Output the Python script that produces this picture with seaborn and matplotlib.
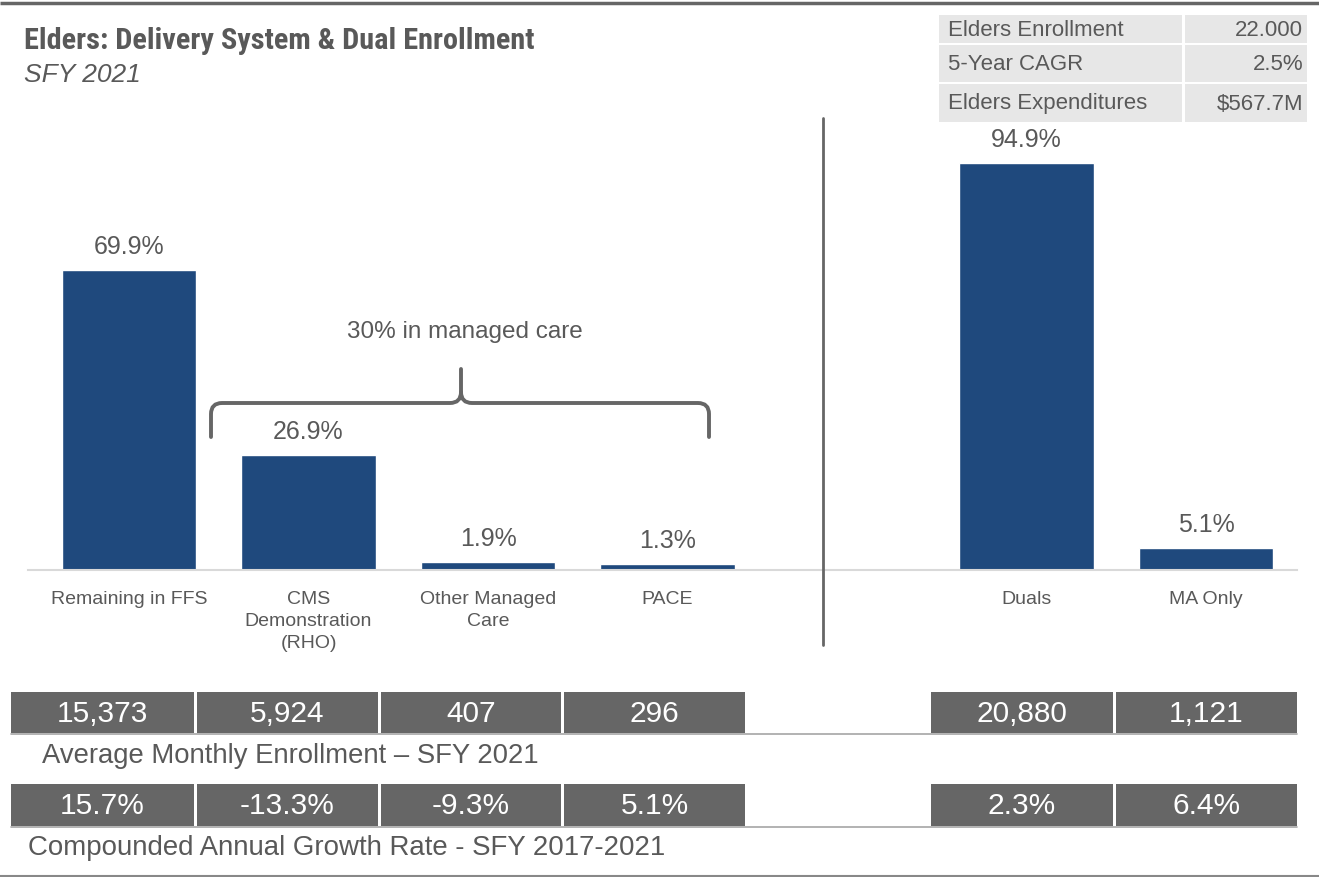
import matplotlib
matplotlib.use("Agg")
import matplotlib.pyplot as plt
from matplotlib import font_manager as fm
from matplotlib.path import Path
from matplotlib.patches import PathPatch, Rectangle
import seaborn as sns
import pandas as pd

# ---------------- data ----------------
categories = ["Remaining in FFS", "CMS\nDemonstration\n(RHO)", "Other Managed\nCare", "PACE",
              "Duals", "MA Only"]
shares = [69.9, 26.9, 1.9, 1.3, 94.9, 5.1]
enrollment = [15373, 5924, 407, 296, 20880, 1121]
cagr = [15.7, -13.3, -9.3, 5.1, 2.3, 6.4]
summary_labels = ["Elders Enrollment", "5-Year CAGR", "Elders Expenditures"]
summary_values = ["22.000", "2.5%", "$567.7M"]
title = "Elders: Delivery System & Dual Enrollment"
subtitle = "SFY 2021"
bracket_text = "30% in managed care"
enroll_caption = "Average Monthly Enrollment \u2013 SFY 2021"
cagr_caption = "Compounded Annual Growth Rate - SFY 2017-2021"

# ---------------- style ----------------
W, H = 1319, 877
BAR = "#1F497D"
GREY_TXT = "#595959"
DARK_CELL = "#666666"
LIGHT_CELL = "#E7E7E7"

sns.set_theme(style="white")
names = {f.name for f in fm.fontManager.ttflist}
main_font = "Liberation Sans" if "Liberation Sans" in names else "DejaVu Sans"
narrow_font = next((n for n in ["Liberation Sans Narrow", "Roboto Condensed", "Open Sans Condensed",
                                "DejaVu Sans Condensed"] if n in names), main_font)
plt.rcParams["font.family"] = [main_font, "DejaVu Sans"]

fig = plt.figure(figsize=(W / 100, H / 100), dpi=100)
fig.patch.set_facecolor("white")

# ---------------- bars ----------------
ax = fig.add_axes([28 / W, 1 - 570 / H, (1297 - 28) / W, (570 - 118) / H])
df = pd.DataFrame({"category": categories, "share": shares})
order = categories[:4] + [" "] + categories[4:]
sns.barplot(data=df, x="category", y="share", order=order, color=BAR, saturation=1,
            width=0.75, errorbar=None, ax=ax)
ax.set_xlim(-0.563, 6.507)
ax.set_ylim(0, 105.4)
ax.bar_label(ax.containers[0], fmt="{:.1f}%", padding=8, fontsize=18, color=GREY_TXT)
ax.set_xlabel("")
ax.set_ylabel("")
ax.set_yticks([])
ax.tick_params(axis="x", length=0, pad=15, labelsize=14, labelcolor=GREY_TXT)
for lbl in ax.get_xticklabels():
    lbl.set_linespacing(1.4)
for s in ["top", "left", "right"]:
    ax.spines[s].set_visible(False)
ax.spines["bottom"].set_color("#D9D9D9")
ax.spines["bottom"].set_linewidth(1.5)
ax.patch.set_alpha(0)

# ---------------- overlay (pixel coordinates) ----------------
ov = fig.add_axes([0, 0, 1, 1], zorder=5)
ov.set_xlim(0, W)
ov.set_ylim(H, 0)
ov.axis("off")
ov.patch.set_alpha(0)

# borders
ov.plot([0, W], [2.5, 2.5], color="#666666", lw=2.5, solid_capstyle="butt")
ov.plot([0, W], [876, 876], color="#888888", lw=1.5, solid_capstyle="butt")

# title
ov.text(24, 41, title, fontsize=21.8, fontweight="bold", color=GREY_TXT, va="center", ha="left",
        family=[narrow_font, main_font])
ov.text(24, 75, subtitle, fontsize=19, fontstyle="italic", color=GREY_TXT, va="center", ha="left")

# summary table
col1 = (939, 1182)
col2 = (1185, 1307)
rows = [(15, 43), (45, 82), (84, 122)]
for (y0, y1), lab, val in zip(rows, summary_labels, summary_values):
    ov.add_patch(Rectangle((col1[0], y0), col1[1] - col1[0], y1 - y0, color=LIGHT_CELL, lw=0))
    ov.add_patch(Rectangle((col2[0], y0), col2[1] - col2[0], y1 - y0, color=LIGHT_CELL, lw=0))
    yc = (y0 + y1) / 2 + 1
    ov.text(col1[0] + 9, yc, lab, fontsize=16, color=GREY_TXT, va="center", ha="left")
    ov.text(col2[1] - 4, yc, val, fontsize=16, color=GREY_TXT, va="center", ha="right")

# bracket
bx0, bx1, bxm = 211, 709, 461
by_end, by_bar, by_peak = 437, 403, 369
r = 11
verts = [(bx0, by_end), (bx0, by_bar + r), (bx0, by_bar), (bx0 + r, by_bar),
         (bxm - r, by_bar), (bxm, by_bar), (bxm, by_bar - r), (bxm, by_peak)]
codes = [Path.MOVETO, Path.LINETO, Path.CURVE3, Path.CURVE3,
         Path.LINETO, Path.CURVE3, Path.CURVE3, Path.LINETO]
verts2 = [(bx1, by_end), (bx1, by_bar + r), (bx1, by_bar), (bx1 - r, by_bar),
          (bxm + r, by_bar), (bxm, by_bar), (bxm, by_bar - r)]
codes2 = [Path.MOVETO, Path.LINETO, Path.CURVE3, Path.CURVE3,
          Path.LINETO, Path.CURVE3, Path.CURVE3]
for v, c in [(verts, codes), (verts2, codes2)]:
    ov.add_patch(PathPatch(Path(v, c), fill=False, edgecolor="#666666", lw=2.8,
                           capstyle="round", joinstyle="round"))
ov.text(465, 332, bracket_text, fontsize=17.5, color=GREY_TXT, ha="center", va="center")

# divider
ov.plot([823, 823], [118, 645], color="#666666", lw=2)

# bottom tables
cells = [(11, 194), (197, 378), (381, 561), (564, 745), (931, 1113), (1116, 1297)]
table_rows = [((692, 733), [f"{v:,}" for v in enrollment]),
              ((784, 826), [f"{v:.1f}%" for v in cagr])]
for (y0, y1), texts in table_rows:
    ov.plot([cells[0][0], cells[-1][1]], [y1 + 0.5, y1 + 0.5], color="#A6A6A6", lw=1.2)
    for (x0, x1), t in zip(cells, texts):
        ov.add_patch(Rectangle((x0, y0), x1 - x0, y1 - y0, color=DARK_CELL, lw=0))
        ov.text((x0 + x1) / 2, (y0 + y1) / 2 + 1, t, fontsize=21.5, color="white",
                ha="center", va="center")
ov.text(42, 756, enroll_caption, fontsize=19.8, color=GREY_TXT, ha="left", va="center")
ov.text(28, 848, cagr_caption, fontsize=19.9, color=GREY_TXT, ha="left", va="center")

fig.savefig("out.png", dpi=100, facecolor="white")
